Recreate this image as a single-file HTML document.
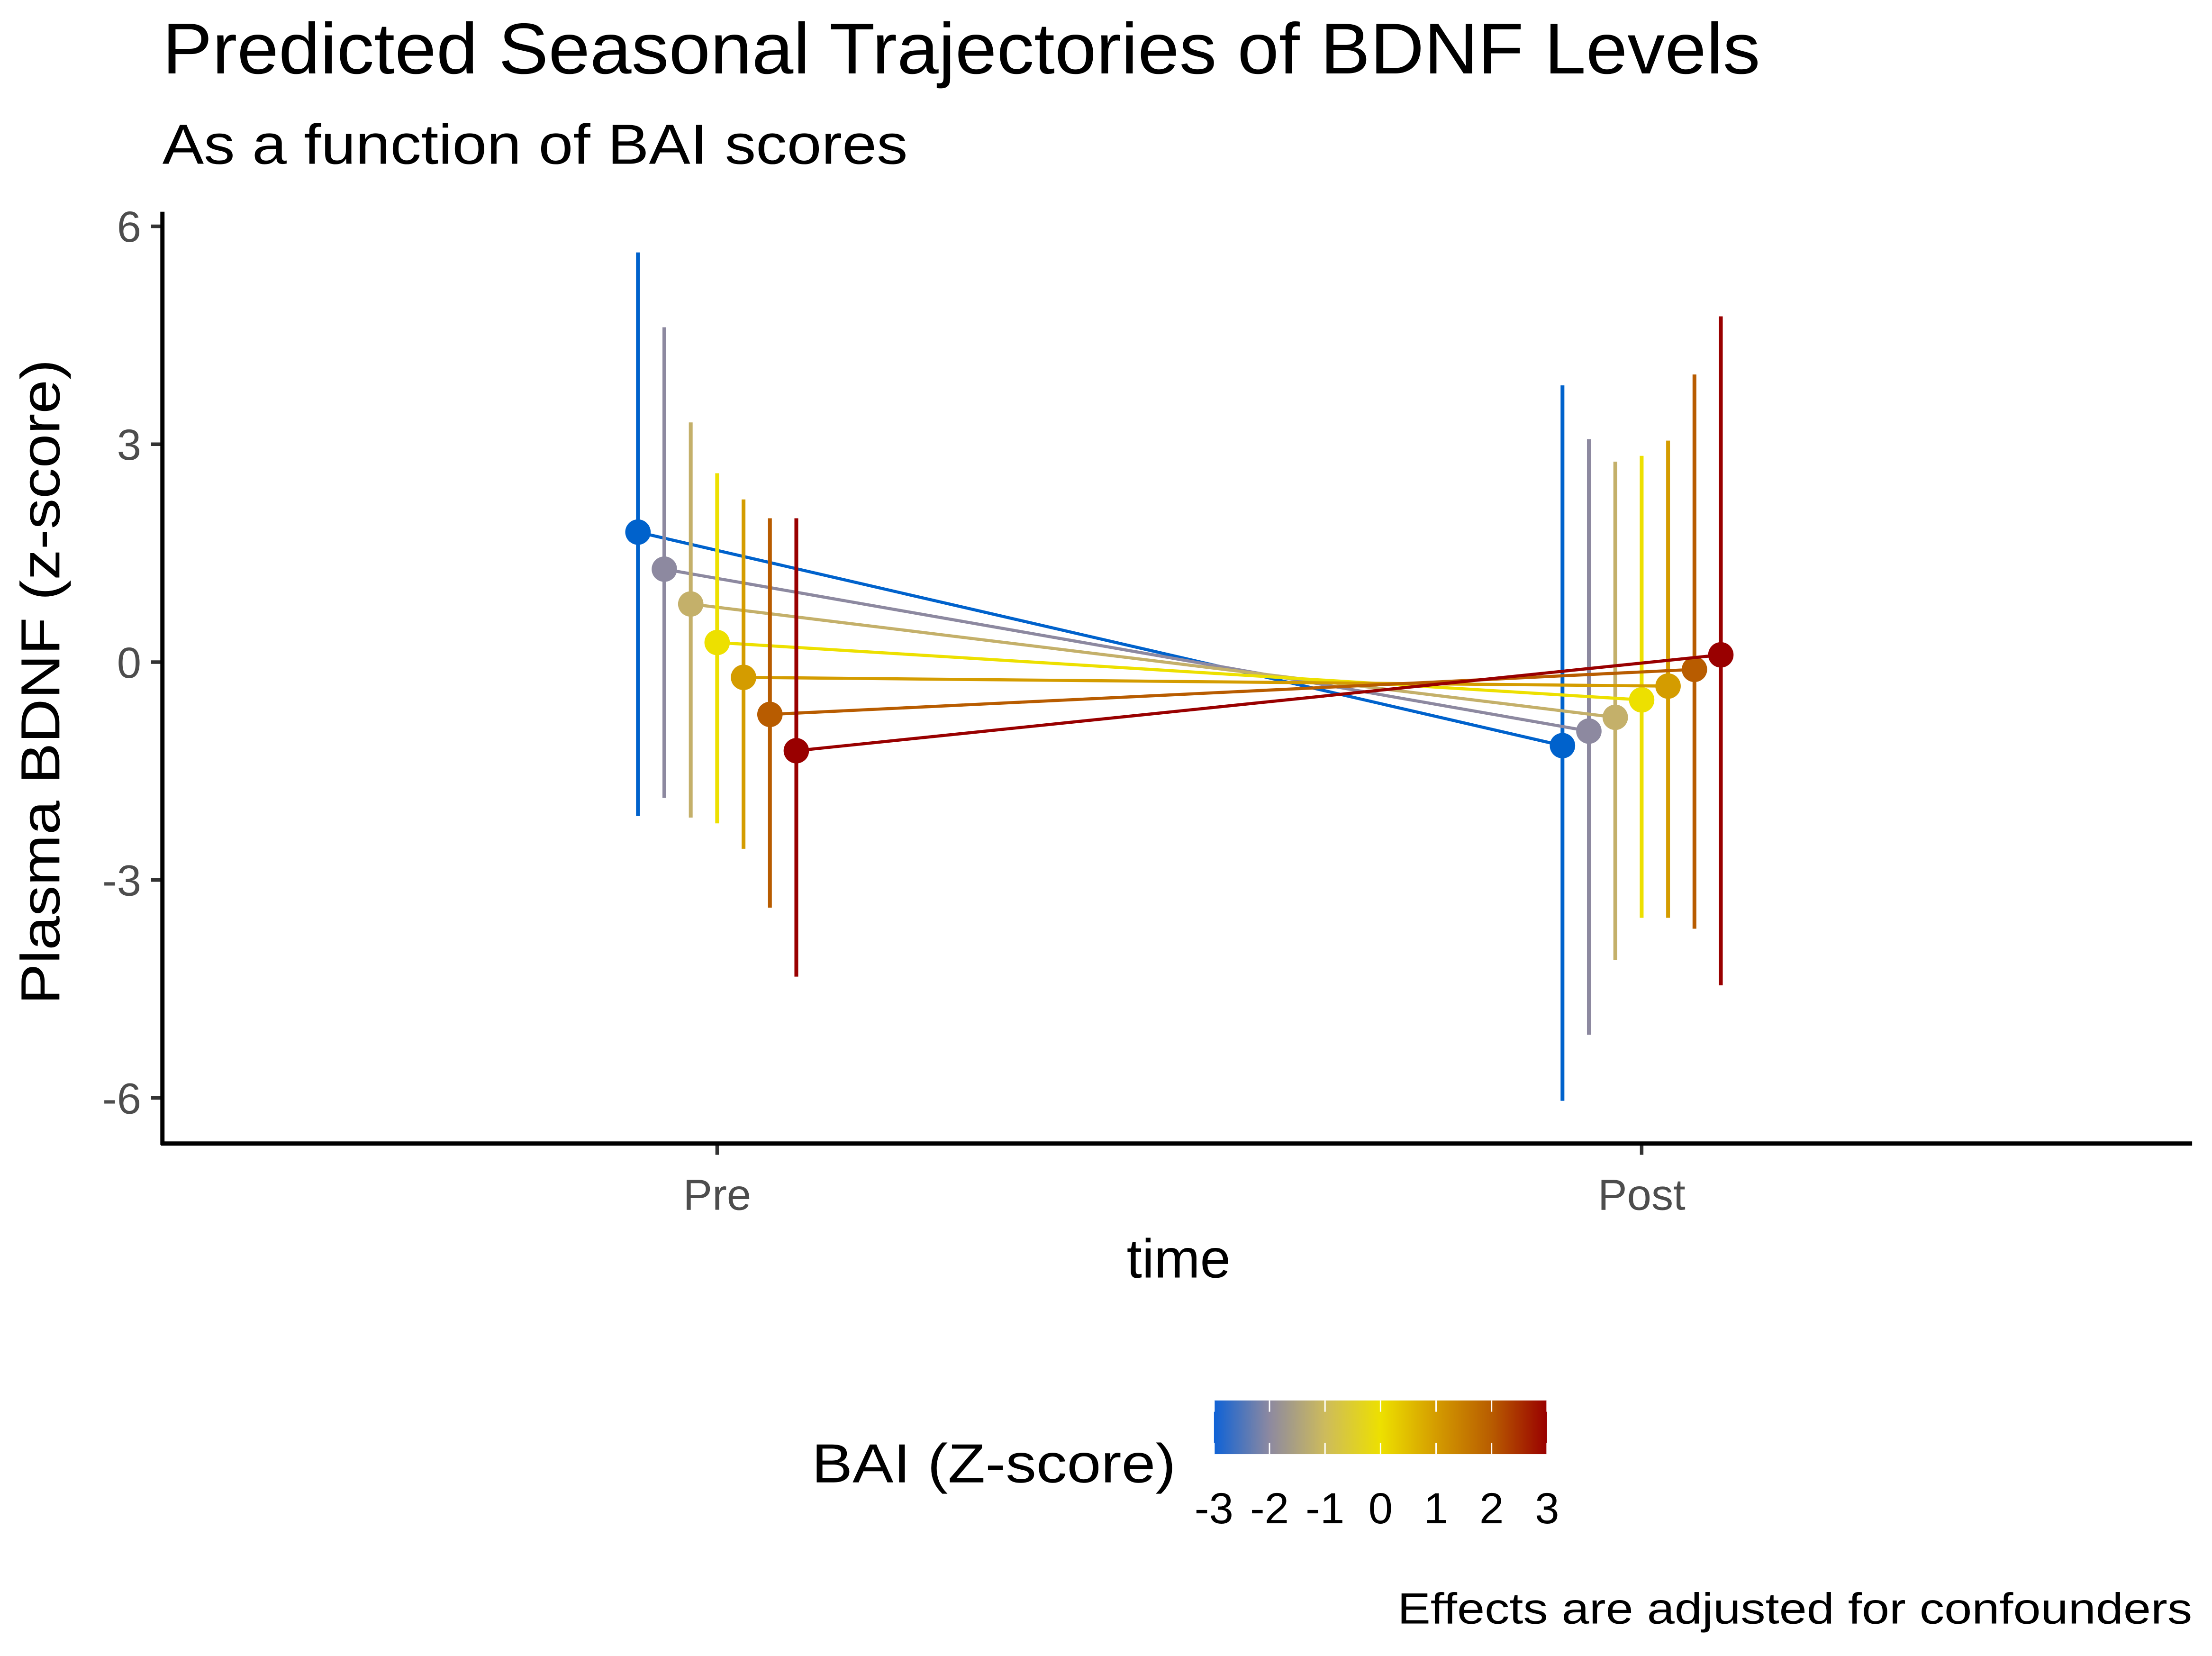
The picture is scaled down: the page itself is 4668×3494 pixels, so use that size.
<!DOCTYPE html>
<html><head><meta charset="utf-8"><style>html,body{margin:0;padding:0;background:#fff}svg{display:block}text{font-family:"Liberation Sans",sans-serif}</style></head>
<body>
<svg id="chart" width="4668" height="3494" viewBox="0 0 1567 1173" xmlns="http://www.w3.org/2000/svg">
<defs>
<linearGradient id="bar" x1="0" x2="1" y1="0" y2="0">
<stop offset="0" stop-color="#0f62d6"/><stop offset="0.1667" stop-color="#8d89a0"/><stop offset="0.3333" stop-color="#cdbb5c"/><stop offset="0.5" stop-color="#ede000"/><stop offset="0.6667" stop-color="#d49c00"/><stop offset="0.8333" stop-color="#b85c00"/><stop offset="1" stop-color="#990000"/>
</linearGradient>
</defs>
<text x="115" y="52" font-size="51" fill="#000" textLength="1132" lengthAdjust="spacingAndGlyphs">Predicted Seasonal Trajectories of BDNF Levels</text>
<text x="115" y="116" font-size="40" fill="#000" textLength="528" lengthAdjust="spacingAndGlyphs">As a function of BAI scores</text>
<g id="yticks"></g>
<g id="marks"></g>
<line x1="115" y1="150" x2="115" y2="811" stroke="#000" stroke-width="3"/>
<line x1="114" y1="810" x2="1553" y2="810" stroke="#000" stroke-width="3"/>
<text x="835" y="905" font-size="39" text-anchor="middle">time</text>
<text transform="translate(42,483) rotate(-90)" font-size="39" text-anchor="middle" textLength="457" lengthAdjust="spacingAndGlyphs">Plasma BDNF (z-score)</text>
<text x="575" y="1050" font-size="39" textLength="258" lengthAdjust="spacingAndGlyphs">BAI (Z-score)</text>
<rect x="860" y="992" width="236" height="38" fill="url(#bar)"/>
<g id="legend"></g>
<text x="1553" y="1150" font-size="31" text-anchor="end" textLength="563" lengthAdjust="spacingAndGlyphs">Effects are adjusted for confounders</text>
</svg>
<script>
const times = ["Pre", "Post"];
const bai = [-3, -2, -1, 0, 1, 2, 3];
const colors = ["#0062cc", "#8d89a0", "#c4b06a", "#ede000", "#d49c00", "#b85c00", "#990000"];
const preMean = [1.79, 1.28, 0.80, 0.27, -0.21, -0.72, -1.22];
const preHigh = [5.64, 4.61, 3.30, 2.60, 2.24, 1.98, 1.98];
const preLow = [-2.12, -1.87, -2.14, -2.22, -2.57, -3.38, -4.33];
const postMean = [-1.15, -0.95, -0.76, -0.52, -0.33, -0.10, 0.10];
const postHigh = [3.81, 3.07, 2.76, 2.84, 3.05, 3.96, 4.76];
const postLow = [-6.04, -5.13, -4.10, -3.52, -3.52, -3.67, -4.45];
const yTicks = [-6, -3, 0, 3, 6];
const legendTicks = [-3, -2, -1, 0, 1, 2, 3];

const NS = "http://www.w3.org/2000/svg";
const yS = v => 469 - v * 51.45;
const xS = i => [508, 1163][i];
const dodge = k => (k - 3) * 18.7;
const lgX = v => 860 + (v + 3) / 6 * 236;
function mk(tag, attrs, parent) {
  const e = document.createElementNS(NS, tag);
  for (const k in attrs) e.setAttribute(k, attrs[k]);
  parent.appendChild(e); return e;
}
const yt = document.getElementById('yticks');
yTicks.forEach(v => {
  const l = mk('line', {x1: 107, x2: 115, y1: yS(v), y2: yS(v), stroke: '#333', 'stroke-width': 2.5}, yt);
  
  
  const t = mk('text', {x: 100, y: yS(v) + 11, 'font-size': 31, 'text-anchor': 'end', fill: '#4d4d4d'}, yt);
  t.textContent = String(v);
  
  
});
times.forEach((tm, i) => {
  const l = mk('line', {x1: xS(i), x2: xS(i), y1: 810, y2: 818, stroke: '#333', 'stroke-width': 2.5}, yt);
  
  
  const t = mk('text', {x: xS(i), y: 857, 'font-size': 31, 'text-anchor': 'middle', fill: '#4d4d4d'}, yt);
  t.textContent = tm;
  
  
});
const mg = document.getElementById('marks');
bai.forEach((b, k) => {
  const g = mk('g', {}, mg);
  
  
  const c = colors[k];
  const x0 = xS(0) + dodge(k), x1 = xS(1) + dodge(k);
  const ln = mk('line', {x1: x0, y1: yS(preMean[k]), x2: x1, y2: yS(postMean[k]), stroke: c, 'stroke-width': 2.2}, g);
  
  
  [[x0, preLow[k], preHigh[k]], [x1, postLow[k], postHigh[k]]].forEach(([x, lo, hi]) => {
    const e = mk('line', {x1: x, x2: x, y1: yS(lo), y2: yS(hi), stroke: c, 'stroke-width': 2.7}, g);
    
    
  });
  [[x0, preMean[k]], [x1, postMean[k]]].forEach(([x, v]) => {
    const p = mk('circle', {cx: x, cy: yS(v), r: 9, fill: c}, g);
    
    
  });
});
const lg = document.getElementById('legend');
legendTicks.forEach(v => {
  const a = mk('line', {x1: lgX(v), x2: lgX(v), y1: 992, y2: 1000, stroke: '#fff', 'stroke-width': 1}, lg);
  
  
  const b = mk('line', {x1: lgX(v), x2: lgX(v), y1: 1022, y2: 1030, stroke: '#fff', 'stroke-width': 1}, lg);
  
  
  const t = mk('text', {x: lgX(v), y: 1079, 'font-size': 31, 'text-anchor': 'middle', fill: '#000'}, lg);
  t.textContent = String(v);
  
  
});
</script>
</body></html>
